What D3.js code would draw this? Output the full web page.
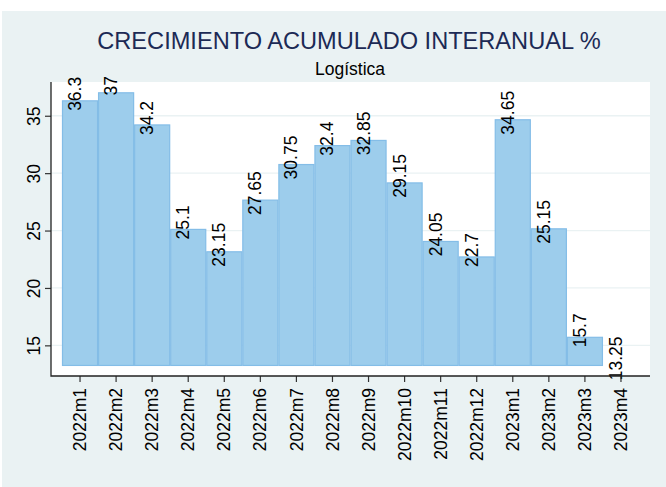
<!DOCTYPE html>
<html>
<head>
<meta charset="utf-8">
<script src="https://cdn.jsdelivr.net/npm/d3@7"></script>
<style>
    html, body { margin: 0; padding: 0; background: #ffffff; }
    svg { display: block; font-family: "Liberation Sans", Arial, sans-serif; }
</style>
</head>
<body>
<div id="chart"></div>
<script>
/*
 * Chart data.
 */
var periods = ['2022m1', '2022m2', '2022m3', '2022m4', '2022m5', '2022m6', '2022m7', '2022m8',
               '2022m9', '2022m10', '2022m11', '2022m12', '2023m1', '2023m2', '2023m3', '2023m4'];
var growth = [36.3, 37, 34.2, 25.1, 23.15, 27.65, 30.75, 32.4,
              32.85, 29.15, 24.05, 22.7, 34.65, 25.15, 15.7, 13.25];
var yTicks = [15, 20, 25, 30, 35];
var title = 'CRECIMIENTO ACUMULADO INTERANUAL %';
var subtitle = 'Logística';

var width = 666, height = 487;
var plot = { left: 51, right: 650, top: 82, bottom: 376 };

var svg = d3.select('#chart').append('svg')
    .attr('width', width)
    .attr('height', height);

/*
 * Outer background.
 */
svg.append('rect')
    .attr('x', 2).attr('y', 11)
    .attr('width', width - 2).attr('height', height - 11)
    .attr('fill', '#eaf2f3');

svg.append('rect')
    .attr('x', plot.left).attr('y', plot.top)
    .attr('width', plot.right - plot.left).attr('height', plot.bottom - plot.top)
    .attr('fill', '#ffffff');

/*
 * Scales.
 */
var x = d3.scaleBand()
    .domain(periods)
    .range([62, 639])
    .padding(0);

var y = d3.scaleLinear()
    .domain([12.33, 37.94])
    .range([plot.bottom, plot.top]);

var base = d3.min(growth);

/*
 * Grid lines.
 */
svg.append('g')
    .selectAll('line')
    .data(yTicks)
    .join('line')
    .attr('x1', plot.left).attr('x2', plot.right)
    .attr('y1', d => y(d)).attr('y2', d => y(d))
    .attr('stroke', '#eaf2f3')
    .attr('stroke-width', 1.3);

/*
 * Bars.
 */
svg.append('g')
    .selectAll('rect')
    .data(growth)
    .join('rect')
    .attr('x', (d, i) => x(periods[i]) + 0.5)
    .attr('y', d => y(d))
    .attr('width', x.bandwidth() - 1)
    .attr('height', d => y(base) - y(d))
    .attr('fill', '#9dcdec')
    .attr('stroke', '#84bde7')
    .attr('stroke-width', 1.2);

/*
 * Bar labels.
 */
svg.append('g')
    .selectAll('text')
    .data(growth)
    .join('text')
    .attr('transform', (d, i) => 'translate(' + (x(periods[i]) + x.bandwidth() / 2 + 1) + ',' + (y(d) - 7) + ') rotate(-90)')
    .attr('text-anchor', 'middle')
    .attr('font-size', 17.5)
    .attr('fill', '#000')
    .text(d => d);

/*
 * Axes.
 */
var xAxis = svg.append('g')
    .attr('transform', 'translate(0,' + plot.bottom + ')')
    .call(d3.axisBottom(x).tickSize(6).tickSizeOuter(0));
xAxis.select('.domain').remove();
xAxis.selectAll('.tick line').attr('stroke', '#333').attr('stroke-width', 1.2);
xAxis.selectAll('.tick text')
    .attr('font-size', 17.5)
    .attr('font-family', '"Liberation Sans", Arial, sans-serif')
    .attr('fill', '#000')
    .attr('text-anchor', 'end')
    .attr('transform', 'rotate(-90)')
    .attr('x', -12)
    .attr('y', 0)
    .attr('dy', '0.35em');

var yAxis = svg.append('g')
    .attr('transform', 'translate(' + plot.left + ',0)')
    .call(d3.axisLeft(y).tickValues(yTicks).tickSize(6).tickSizeOuter(0));
yAxis.select('.domain').remove();
yAxis.selectAll('.tick line').attr('stroke', '#333').attr('stroke-width', 1.2);
yAxis.selectAll('.tick text')
    .attr('font-size', 17.5)
    .attr('font-family', '"Liberation Sans", Arial, sans-serif')
    .attr('fill', '#000')
    .attr('text-anchor', 'middle')
    .attr('transform', 'rotate(-90)')
    .attr('x', 0)
    .attr('y', -17)
    .attr('dy', '0.35em');

svg.append('path')
    .attr('d', 'M' + plot.left + ',' + plot.top + 'V' + plot.bottom + 'H' + plot.right)
    .attr('fill', 'none')
    .attr('stroke', '#222')
    .attr('stroke-width', 1.3);

/*
 * Titles.
 */
svg.append('text')
    .attr('x', 349).attr('y', 48.5)
    .attr('text-anchor', 'middle')
    .attr('font-size', 23.6)
    .attr('fill', '#1c2a55')
    .text(title);

svg.append('text')
    .attr('x', 350).attr('y', 75)
    .attr('text-anchor', 'middle')
    .attr('font-size', 17.5)
    .attr('fill', '#000')
    .text(subtitle);
</script>
</body>
</html>
